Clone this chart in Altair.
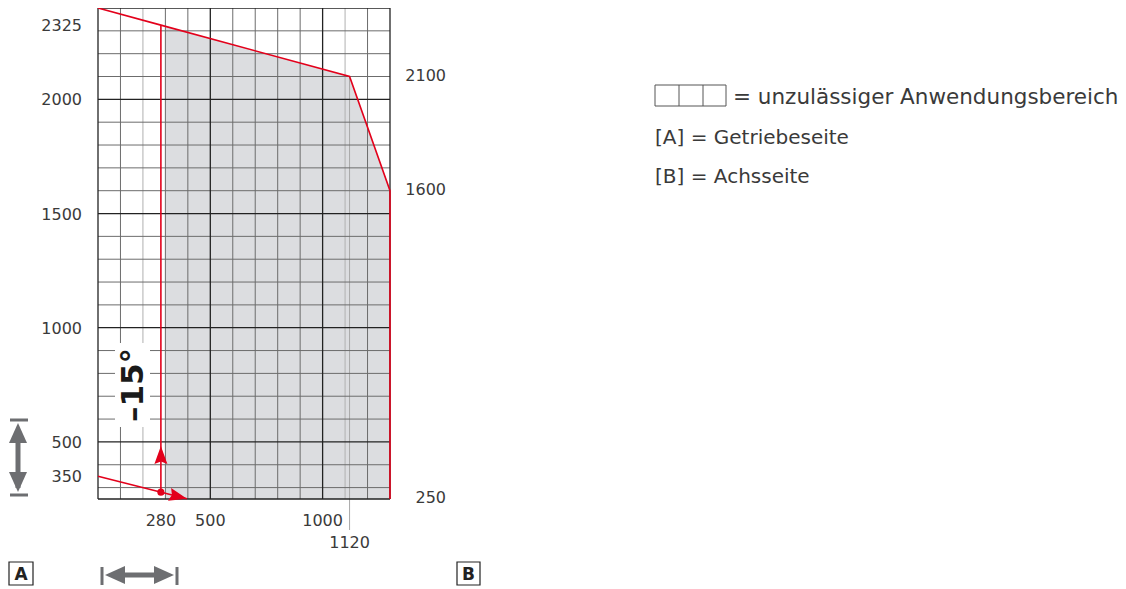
import altair as alt
import pandas as pd

# ---------------- data ----------------
grid_x_minor = [100, 300, 400, 600, 700, 800, 900, 1200]
grid_x_light = [200, 1100]
grid_x_major = [0, 500, 1000, 1300]
grid_y_minor = [300, 400, 600, 700, 800, 900, 1100, 1200, 1300, 1400,
                1600, 1700, 1800, 1900, 2100, 2200, 2300]
grid_y_major = [250, 500, 1000, 1500, 2000, 2400]

boundary_x = [0, 280, 1120, 1300, 1300]
boundary_y = [2400, 2325, 2100, 1600, 250]

area_x = [300, 1120, 1300]
area_top = [2320, 2100, 1600]
area_base = 250

feed_x = [280, 280]
feed_y = [280, 2325]
slope_x = [0, 396]
slope_y = [350, 251]
dot_x = [280]
dot_y = [280]
up_head_x = [280]
up_head_y = [438]
slope_head_x = [353]
slope_head_y = [262]

mark_1120 = [1120]
mark_1120_top = [2100]

left_ticks = [2325, 2000, 1500, 1000, 500, 350]
right_ticks = [2100, 1600, 250]
bottom_ticks = [280, 500, 1000]
bottom_ticks_low = [1120]

angle_label = "–15°"
legend_lines = ["= unzulässiger Anwendungsbereich", "[A] = Getriebeseite", "[B] = Achsseite"]

# ---------------- styles ----------------
RED = "#e3001b"
GREY_ARROW = "#6d6e71"
TXT = "#3a3a3a"
FONT = "DejaVu Sans"
X = alt.Scale(domain=[0, 1300], nice=False, zero=False)
Y = alt.Scale(domain=[250, 2400], nice=False, zero=False)
W, H = 292, 491


def vrules(vals, color, width):
    return alt.Chart(pd.DataFrame({"x": vals})).mark_rule(
        color=color, strokeWidth=width).encode(x=alt.X("x:Q", scale=X, axis=None))


def hrules(vals, color, width):
    return alt.Chart(pd.DataFrame({"y": vals})).mark_rule(
        color=color, strokeWidth=width).encode(y=alt.Y("y:Q", scale=Y, axis=None))


area = alt.Chart(pd.DataFrame({"x": area_x, "top": area_top, "base": [area_base] * len(area_x)})).mark_area(
    color="#dcdde0", opacity=1).encode(
    x=alt.X("x:Q", scale=X, axis=None),
    y=alt.Y("top:Q", scale=Y, axis=None),
    y2="base:Q")

rule_1120 = alt.Chart(pd.DataFrame({"x": mark_1120, "y": mark_1120_top})).mark_rule(
    color="#a8a8a8", strokeWidth=1).encode(
    x=alt.X("x:Q", scale=X, axis=None),
    y=alt.Y("y:Q", scale=Y, axis=None),
    y2=alt.value(H + 31))

grid = [
    vrules(grid_x_minor, "#6c6c6c", 1),
    vrules(grid_x_light, "#b0b0b0", 1),
    hrules(grid_y_minor, "#6c6c6c", 1),
    vrules(grid_x_major, "#222222", 1.3),
    hrules(grid_y_major, "#222222", 1.3),
]

# white box behind the angle label
label_bg = alt.Chart(pd.DataFrame({"a": [0]})).mark_rect(color="white").encode(
    x=alt.value(17), x2=alt.value(52), y=alt.value(335), y2=alt.value(419))
label = alt.Chart(pd.DataFrame({"t": [angle_label]})).mark_text(
    font=FONT, fontWeight="bold", fontSize=31, angle=270, color="#1a1a1a",
    align="center", baseline="middle").encode(
    text="t:N", x=alt.value(36), y=alt.value(377))

lines_df = pd.DataFrame({
    "x": boundary_x + feed_x + slope_x,
    "y": boundary_y + feed_y + slope_y,
    "g": ["b"] * len(boundary_x) + ["f"] * len(feed_x) + ["s"] * len(slope_x),
    "i": list(range(len(boundary_x))) + list(range(len(feed_x))) + list(range(len(slope_x))),
})
red_lines = alt.Chart(lines_df).mark_line(color=RED, strokeWidth=1.6).encode(
    x=alt.X("x:Q", scale=X, axis=None),
    y=alt.Y("y:Q", scale=Y, axis=None),
    detail="g:N", order="i:Q")

HEAD = "M0,-1 L0.65,0.8 L0,0.55 L-0.65,0.8 Z"
up_head = alt.Chart(pd.DataFrame({"x": up_head_x, "y": up_head_y})).mark_point(
    shape=HEAD, filled=True, color=RED, size=400, opacity=1).encode(
    x=alt.X("x:Q", scale=X, axis=None), y=alt.Y("y:Q", scale=Y, axis=None))
slope_head = alt.Chart(pd.DataFrame({"x": slope_head_x, "y": slope_head_y})).mark_point(
    shape=HEAD, filled=True, color=RED, size=400, opacity=1, angle=104).encode(
    x=alt.X("x:Q", scale=X, axis=None), y=alt.Y("y:Q", scale=Y, axis=None))
dot = alt.Chart(pd.DataFrame({"x": dot_x, "y": dot_y})).mark_point(
    shape="circle", filled=True, color=RED, size=50, opacity=1).encode(
    x=alt.X("x:Q", scale=X, axis=None), y=alt.Y("y:Q", scale=Y, axis=None))

# tick labels
left_lab = alt.Chart(pd.DataFrame({"v": left_ticks})).mark_text(
    font=FONT, fontSize=16, color=TXT, align="right", baseline="middle", dy=1).encode(
    y=alt.Y("v:Q", scale=Y, axis=None), x=alt.value(-16), text="v:Q")
right_lab = alt.Chart(pd.DataFrame({"v": right_ticks})).mark_text(
    font=FONT, fontSize=16, color=TXT, align="right", baseline="middle", dy=-1).encode(
    y=alt.Y("v:Q", scale=Y, axis=None), x=alt.value(348), text="v:Q")
bottom_lab = alt.Chart(pd.DataFrame({"v": bottom_ticks})).mark_text(
    font=FONT, fontSize=16, color=TXT, align="center", baseline="middle").encode(
    x=alt.X("v:Q", scale=X, axis=None), y=alt.value(H + 22), text="v:Q")
bottom_lab2 = alt.Chart(pd.DataFrame({"v": bottom_ticks_low})).mark_text(
    font=FONT, fontSize=16, color=TXT, align="center", baseline="middle").encode(
    x=alt.X("v:Q", scale=X, axis=None), y=alt.value(H + 44), text="v:Q")

# grey double arrows
one = pd.DataFrame({"a": [0]})
GHEAD = "M0,-1 L0.9,1 L-0.9,1 Z"


def grule(x1, x2, y1, y2, w):
    return alt.Chart(one).mark_rule(color=GREY_ARROW, strokeWidth=w).encode(
        x=alt.value(x1), x2=alt.value(x2), y=alt.value(y1), y2=alt.value(y2))


def ghead(x, y, ang):
    return alt.Chart(one).mark_point(shape=GHEAD, filled=True, color=GREY_ARROW,
                                     size=400, opacity=1, angle=ang).encode(
        x=alt.value(x), y=alt.value(y))


arrows = [
    grule(-80, -80, 430, 480, 5), grule(-88, -70, 412, 412, 3), grule(-88, -70, 487, 487, 3),
    ghead(-80, 425, 0), ghead(-80, 474, 180),
    grule(22, 60, 567, 567, 5), grule(4, 4, 559, 577, 3), grule(79, 79, 559, 577, 3),
    ghead(17, 567, 270), ghead(66, 567, 90),
]


def box(x1, x2, y1, y2, letter):
    r = alt.Chart(one).mark_rect(fill="white", stroke="#222222", strokeWidth=1.2).encode(
        x=alt.value(x1), x2=alt.value(x2), y=alt.value(y1), y2=alt.value(y2))
    t = alt.Chart(pd.DataFrame({"t": [letter]})).mark_text(
        font=FONT, fontWeight="bold", fontSize=17, color="#222222",
        align="center", baseline="middle").encode(
        text="t:N", x=alt.value((x1 + x2) / 2), y=alt.value((y1 + y2) / 2 + 1))
    return [r, t]


boxes = box(-89, -65, 554, 577, "A") + box(359, 382, 554, 577, "B")

# legend
leg_rect = alt.Chart(one).mark_rect(fill="white", stroke="#555555", strokeWidth=1).encode(
    x=alt.value(557), x2=alt.value(628), y=alt.value(77), y2=alt.value(98))
leg_div = [alt.Chart(one).mark_rule(color="#555555", strokeWidth=1).encode(
    x=alt.value(v), y=alt.value(77), y2=alt.value(98)) for v in (581, 605)]
leg_txt = [
    alt.Chart(pd.DataFrame({"t": [legend_lines[0]]})).mark_text(
        font=FONT, fontSize=21.5, color=TXT, align="left", baseline="middle").encode(
        text="t:N", x=alt.value(635), y=alt.value(90)),
    alt.Chart(pd.DataFrame({"t": [legend_lines[1]]})).mark_text(
        font=FONT, fontSize=20, color=TXT, align="left", baseline="middle").encode(
        text="t:N", x=alt.value(557), y=alt.value(130)),
    alt.Chart(pd.DataFrame({"t": [legend_lines[2]]})).mark_text(
        font=FONT, fontSize=20, color=TXT, align="left", baseline="middle").encode(
        text="t:N", x=alt.value(557), y=alt.value(169)),
]

layers = ([area, rule_1120] + grid + [label_bg, label, red_lines, up_head, slope_head, dot,
          left_lab, right_lab, bottom_lab, bottom_lab2] + arrows + boxes
          + [leg_rect] + leg_div + leg_txt)

chart = alt.layer(*layers).properties(
    width=W, height=H,
    padding={"left": 90, "top": 0, "right": 728, "bottom": 90},
    autosize=alt.AutoSizeParams(type="none"),
).configure_view(stroke=None)

chart.save("out.html", embed_options={"renderer": "svg", "actions": False})
